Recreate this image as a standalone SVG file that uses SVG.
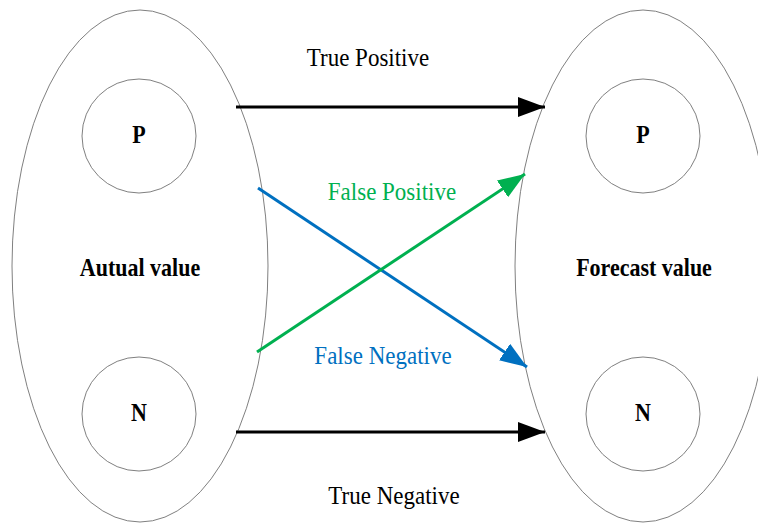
<svg xmlns="http://www.w3.org/2000/svg" width="758" height="523" viewBox="0 0 758 523">
<style>
.shape{fill:none;stroke:#808080;stroke-width:1}
.t{font-family:"Liberation Serif","Times New Roman",serif;font-size:23px;text-anchor:middle}
.b{font-weight:bold;font-size:22px}
</style>
<defs>
<marker id="ak" markerUnits="userSpaceOnUse" markerWidth="28" markerHeight="20" refX="27" refY="10" orient="auto"><path d="M0,0 L27,10 L0,20 Z" fill="#000"/></marker>
<marker id="ag" markerUnits="userSpaceOnUse" markerWidth="28" markerHeight="20" refX="27" refY="10" orient="auto"><path d="M0,0 L27,10 L0,20 Z" fill="#00B050"/></marker>
<marker id="ab" markerUnits="userSpaceOnUse" markerWidth="28" markerHeight="20" refX="27" refY="10" orient="auto"><path d="M0,0 L27,10 L0,20 Z" fill="#0070C0"/></marker>
</defs>
<rect width="758" height="523" fill="#fff"/>
<g id="actual">
<ellipse class="shape" cx="140" cy="266" rx="128" ry="256"/>
<text class="t b" transform="translate(140,276) scale(1,1.1)">Autual value</text>
</g>
<g id="actualP">
<circle class="shape" cx="139" cy="136" r="57"/>
<text class="t b" transform="translate(139,143) scale(1,1.1)">P</text>
</g>
<g id="actualN">
<circle class="shape" cx="139" cy="414" r="57"/>
<text class="t b" transform="translate(139,421) scale(1,1.1)">N</text>
</g>
<g id="forecast">
<ellipse class="shape" cx="643" cy="266" rx="128" ry="256"/>
<text class="t b" transform="translate(644,276) scale(1,1.1)">Forecast value</text>
</g>
<g id="forecastP">
<circle class="shape" cx="643" cy="136" r="57"/>
<text class="t b" transform="translate(643,143) scale(1,1.1)">P</text>
</g>
<g id="forecastN">
<circle class="shape" cx="643" cy="414" r="57"/>
<text class="t b" transform="translate(643,421) scale(1,1.1)">N</text>
</g>
<g id="connectors">
<line x1="236" y1="107" x2="545" y2="107" stroke="#000" stroke-width="3" marker-end="url(#ak)"/>
<line x1="236" y1="432" x2="545" y2="432" stroke="#000" stroke-width="3" marker-end="url(#ak)"/>
<line x1="258" y1="188" x2="527" y2="367" stroke="#0070C0" stroke-width="3" marker-end="url(#ab)"/>
<line x1="257" y1="352" x2="525" y2="174" stroke="#00B050" stroke-width="3" marker-end="url(#ag)"/>
<text class="t" transform="translate(368,66) scale(1,1.12)">True Positive</text>
<text class="t" transform="translate(394,504) scale(1,1.12)">True Negative</text>
<text class="t" fill="#00B050" transform="translate(392,200) scale(1,1.12)">False Positive</text>
<text class="t" fill="#0070C0" transform="translate(383,364) scale(1,1.12)">False Negative</text>
</g>
</svg>
